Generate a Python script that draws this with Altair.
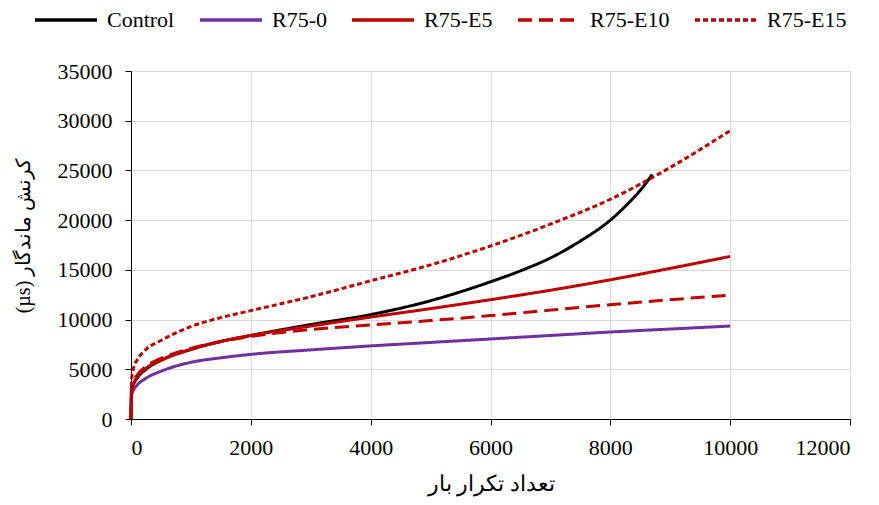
import altair as alt
import pandas as pd

series_names = ["Control", "R75-0", "R75-E5", "R75-E10", "R75-E15"]

x_control = [0, 10, 50, 100, 250, 500, 1000, 1500, 2000, 3000, 4000, 5000, 6000, 6500, 7000, 7500, 8000, 8300, 8500, 8700]
y_control = [0, 2900, 3600, 4100, 5000, 5900, 7000, 7800, 8400, 9500, 10500, 11900, 13800, 14900, 16200, 17900, 20000, 21700, 23000, 24600]

x_common = [0, 10, 50, 100, 250, 500, 1000, 1500, 2000, 3000, 4000, 5000, 6000, 7000, 8000, 9000, 10000]
y_r0 = [0, 2400, 3000, 3400, 4100, 4800, 5700, 6150, 6500, 6950, 7350, 7700, 8050, 8400, 8750, 9050, 9350]
y_e5 = [0, 2900, 3700, 4200, 5100, 5900, 7000, 7800, 8400, 9350, 10250, 11100, 12000, 12950, 14000, 15150, 16350]
y_e10 = [0, 3000, 3900, 4400, 5300, 6100, 7100, 7800, 8300, 9000, 9450, 9900, 10400, 10950, 11500, 12000, 12450]
y_e15 = [0, 4000, 5300, 5900, 7000, 7900, 9300, 10200, 10900, 12300, 13900, 15500, 17400, 19600, 22100, 25300, 29000]

colors = ["#000000", "#7030A0", "#C00000", "#C00000", "#C00000"]
dashes = [[1, 0], [1, 0], [1, 0], [14, 7], [5, 3]]

x_ticks = [0, 2000, 4000, 6000, 8000, 10000, 12000]
y_ticks = [0, 5000, 10000, 15000, 20000, 25000, 30000, 35000]

rows = []
for xs, ys, name in [
    (x_control, y_control, "Control"),
    (x_common, y_r0, "R75-0"),
    (x_common, y_e5, "R75-E5"),
    (x_common, y_e10, "R75-E10"),
    (x_common, y_e15, "R75-E15"),
]:
    for a, b in zip(xs, ys):
        rows.append({"series": name, "x": a, "y": b})
df = pd.DataFrame(rows)

FONT = "'Liberation Serif', 'Times New Roman', serif"

chart = (
    alt.Chart(df)
    .mark_line(strokeWidth=3, interpolate="monotone")
    .encode(
        x=alt.X("x:Q", scale=alt.Scale(domain=[0, 12000], nice=False),
                axis=alt.Axis(values=x_ticks, format="d", title="تعداد تکرار بار",
                              labelFont=FONT, labelFontSize=22, titleFont=FONT,
                              titleFontSize=22, labelPadding=12, titlePadding=15)),
        y=alt.Y("y:Q", scale=alt.Scale(domain=[0, 35000], nice=False),
                axis=alt.Axis(values=y_ticks, format="d", title="(µs) کرنش ماندگار",
                              labelFont=FONT, labelFontSize=22, titleFont=FONT,
                              titleFontSize=20, titleY=164,
                              labelPadding=13, titlePadding=24)),
        color=alt.Color("series:N", scale=alt.Scale(domain=series_names, range=colors),
                        sort=series_names, title=None),
        strokeDash=alt.StrokeDash("series:N", scale=alt.Scale(domain=series_names, range=dashes),
                                  sort=series_names, title=None),
        detail="series:N",
    )
    .properties(
        width=719,
        height=348,
        autosize=alt.AutoSizeParams(type="none"),
        padding={"left": 123, "top": 63, "right": 20, "bottom": 78},
    )
    .configure_view(stroke="#d9d9d9")
    .configure_axis(
        labelColor="#000000",
        titleFontWeight="normal",
        titleColor="#000000",
        domainColor="#000000",
        tickColor="#000000",
        tickSize=6,
        gridColor="#d9d9d9",
        grid=True,
    )
    .configure_legend(
        orient="none",
        legendX=-98,
        legendY=-84,
        direction="horizontal",
        symbolType="stroke",
        symbolSize=3844,
        symbolStrokeWidth=3.5,
        labelFont=FONT,
        labelFontSize=22,
        labelFontWeight="normal",
        labelColor="#000000",
        labelOffset=8,
        columnPadding=18,
    )
)

chart.save("out.html", embed_options={"renderer": "svg", "actions": False})
